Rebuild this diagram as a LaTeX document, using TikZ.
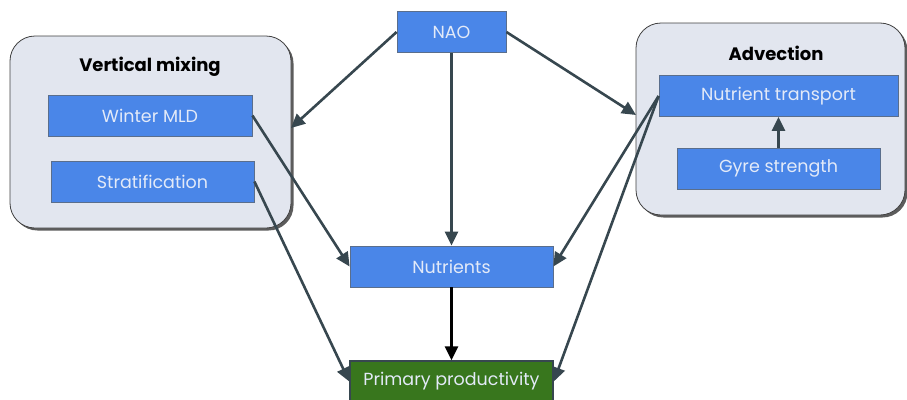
\documentclass[tikz,border=0pt]{standalone}
\usepackage{fontspec}
\setmainfont{Poppins}
\usetikzlibrary{arrows.meta,shadows}
\definecolor{boxblue}{HTML}{4A86E8}
\definecolor{boxedge}{HTML}{5A6E8C}
\definecolor{txtlight}{HTML}{E3EAF8}
\definecolor{clusterfill}{HTML}{E2E6EF}
\definecolor{arrowc}{HTML}{37474F}
\definecolor{prodgreen}{HTML}{38761D}
\begin{document}
\begin{tikzpicture}[x=1pt,y=-1pt,
  cluster/.style={draw=black!75,line width=0.8pt,fill=clusterfill,rounded corners=25pt,
     drop shadow={shadow xshift=2.5pt,shadow yshift=-2.5pt,opacity=0.85,fill=black!75}},
  varbox/.style={draw=boxedge,line width=0.8pt,fill=boxblue,text=txtlight,
     minimum height=41pt,inner sep=0pt,font=\fontsize{17.5}{20}\selectfont},
  ctitle/.style={font=\fontsize{18}{20}\selectfont\bfseries,text=black},
  link/.style={draw=arrowc,line width=2.6pt,-{Triangle[length=14pt,width=13pt]}},
]
\useasboundingbox (0,0) rectangle (907,399);
% clusters
\node[cluster,minimum width=281pt,minimum height=192pt] (vm) at (150.5,132) {};
\node[cluster,minimum width=269pt,minimum height=192pt] (adv) at (770.5,119) {};
\node[ctitle] (vmt) at (150,67) {Vertical mixing};
\node[ctitle] (advt) at (776,53) {Advection};
% nodes
\node[varbox,minimum width=109pt] (nao) at (451.5,32) {NAO};
\node[varbox,minimum width=204pt] (mld) at (150,115.5) {Winter MLD};
\node[varbox,minimum width=203pt] (strat) at (152.5,181.5) {Stratification};
\node[varbox,minimum width=239pt] (ntr) at (778.5,96) {Nutrient transport};
\node[varbox,minimum width=203pt] (gyre) at (778.5,168.5) {Gyre strength};
\node[varbox,minimum width=203pt] (nut) at (451.5,266.5) {Nutrients};
\node[varbox,minimum width=203pt,fill=prodgreen,draw=arrowc,line width=1.5pt] (pp) at (451.5,381.5) {Primary productivity};
% connectors
\coordinate (vmin) at (291,128);
\coordinate (advin) at (636,115);
\draw[link] (nao.west) -- (vmin);
\draw[link] (nao.east) -- (advin);
\draw[link] (nao.south) -- (nut.north);
\draw[link] (mld.east) -- (nut.west);
\draw[link] (strat.east) -- (pp.west);
\draw[link] (ntr.west) -- (nut.east);
\draw[link] (ntr.west) -- (pp.east);
\draw[link] (gyre.north) -- (ntr.south);
\draw[draw=black,line width=2.6pt,-{Triangle[length=14pt,width=13pt]}] (nut.south) -- (pp.north);
\end{tikzpicture}
\end{document}
